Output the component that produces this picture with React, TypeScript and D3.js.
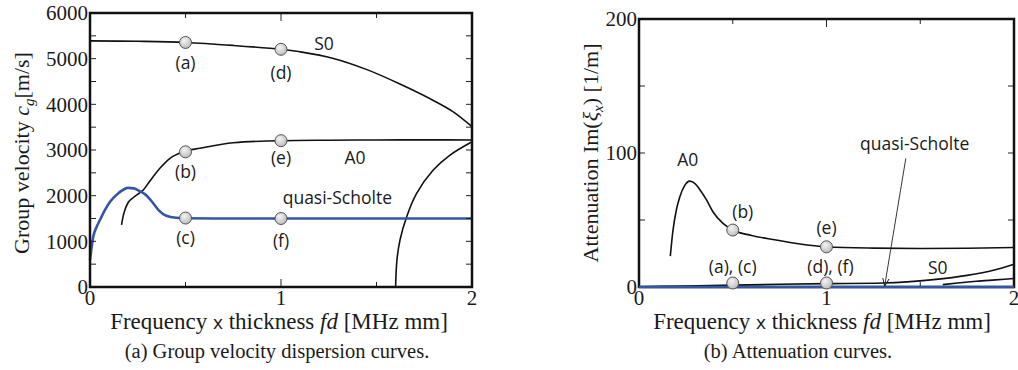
import * as React from 'react';
import * as d3 from 'd3';

// (a) group velocity, fd [MHz mm] vs cg [m/s]
const s0VelFd = [0, 0.25, 0.5, 0.75, 1.0, 1.1, 1.27, 1.45, 1.62, 1.8, 1.9, 2.0];
const s0Vel = [5390, 5380, 5355, 5290, 5205, 5150, 5010, 4760, 4450, 4080, 3840, 3510];

const a0VelFd = [0.165, 0.172, 0.183, 0.2, 0.227, 0.26, 0.28, 0.31, 0.366, 0.419, 0.49, 0.576, 0.75, 1.0, 1.25, 1.5, 1.75, 2.0];
const a0Vel = [1360, 1520, 1690, 1850, 1960, 2060, 2130, 2300, 2600, 2818, 2963, 3037, 3160, 3204, 3214, 3220, 3222, 3220];

const qsVelFd = [0, 0.017, 0.035, 0.052, 0.08, 0.105, 0.15, 0.2, 0.23, 0.26, 0.297, 0.33, 0.36, 0.4, 0.45, 0.5, 0.75, 1.0, 1.5, 2.0];
const qsVel = [590, 1100, 1320, 1467, 1700, 1868, 2060, 2170, 2160, 2100, 2000, 1840, 1680, 1560, 1515, 1505, 1500, 1500, 1500, 1500];

const a1VelFd = [1.6, 1.607, 1.623, 1.658, 1.71, 1.797, 1.885, 2.0];
const a1Vel = [0, 590, 1030, 1540, 2050, 2562, 2890, 3182];

// (b) attenuation, fd vs Im(xi) [1/m]
const a0AttFd = [0.167, 0.181, 0.2, 0.217, 0.245, 0.27, 0.3, 0.323, 0.36, 0.395, 0.448, 0.5, 0.6, 0.715, 0.85, 1.0, 1.25, 1.5, 1.75, 2.0];
const a0Att = [23, 42, 58, 67, 76, 79, 77, 73, 65, 56, 47.5, 42.5, 38.5, 35.4, 32.3, 30, 29, 28.7, 28.9, 29.5];

const s0AttFd = [0, 0.25, 0.5, 0.75, 1.0, 1.3, 1.57, 1.75, 1.89, 2.0];
const s0Att = [0.2, 0.8, 1.4, 2.0, 2.5, 3.0, 5.5, 8.7, 12.5, 17];

const a1AttFd = [1.62, 1.7, 1.8, 1.9, 2.0];
const a1Att = [1.8, 3.0, 4.3, 5.3, 6.3];

const qsAttFd = [0, 2];
const qsAtt = [0, 0];

// markers
const velMarkFd = [0.5, 1.0, 0.5, 1.0, 0.5, 1.0];
const velMark = [5355, 5205, 2960, 3204, 1510, 1500];
const velMarkLabels = ['(a)', '(d)', '(b)', '(e)', '(c)', '(f)'];

const attMarkFd = [0.5, 1.0, 0.5, 1.0];
const attMark = [42.5, 30, 3, 3];
const attMarkLabels = ['(b)', '(e)', '(a), (c)', '(d), (f)'];

const xTickLabels = ['0', '1', '2'];
const velTickLabels = ['0', '1000', '2000', '3000', '4000', '5000', '6000'];
const attTickLabels = ['0', '100', '200'];

const BLUE = '#3556a6';
const INK = '#1a1a1a';
const SERIF = '"Liberation Serif", "Times New Roman", serif';
const SANS = '"Open Sans", "Noto Sans", sans-serif';

function zip(xs: number[], ys: number[]) {
  return xs.map((x, i) => [x, ys[i]] as [number, number]);
}

function Frame({ x, y, xMinor, yMinor }) {
  const [x0, x1] = x.range();
  const [y0, y1] = y.range();
  const ticks = [];
  xMinor.forEach((t, i) => {
    const len = Number.isInteger(t) ? 8 : 5;
    ticks.push(<line key={'xb' + i} x1={x(t)} x2={x(t)} y1={y0} y2={y0 - len} />);
    ticks.push(<line key={'xt' + i} x1={x(t)} x2={x(t)} y1={y1} y2={y1 + len} />);
  });
  yMinor.forEach((t, i) => {
    ticks.push(<line key={'yl' + i} x1={x0} x2={x0 + 6} y1={y(t)} y2={y(t)} />);
    ticks.push(<line key={'yr' + i} x1={x1} x2={x1 - 6} y1={y(t)} y2={y(t)} />);
  });
  return (
    <g>
      <g stroke="#222" strokeWidth={1}>{ticks}</g>
      <rect x={x0} y={y1} width={x1 - x0} height={y0 - y1} fill="none" stroke="#111" strokeWidth={2.5} />
    </g>
  );
}

function Marker({ cx, cy }) {
  return <circle cx={cx} cy={cy} r={6} fill="url(#mk)" stroke="#555" strokeWidth={1} />;
}

export default function App() {
  const xa = d3.scaleLinear().domain([0, 2]).range([90, 472]);
  const ya = d3.scaleLinear().domain([0, 6000]).range([287, 13]);
  const xb = d3.scaleLinear().domain([0, 2]).range([639, 1014]);
  const yb = d3.scaleLinear().domain([0, 200]).range([287, 19]);

  const la = d3.line().x(d => xa(d[0])).y(d => ya(d[1])).curve(d3.curveMonotoneX);
  const lb = d3.line().x(d => xb(d[0])).y(d => yb(d[1])).curve(d3.curveMonotoneX);
  // smooth curves (S0, A1 with vertical start)
  const laS = d3.line().x(d => xa(d[0])).y(d => ya(d[1])).curve(d3.curveCatmullRom.alpha(0.5));

  const fdMinor = [0.5, 1, 1.5];
  const velMinor = d3.range(500, 6000, 500);
  const attMinor = [50, 100, 150];

  const velOff = [20, 24, 20, 17, 20, 22];
  const attOff = [-18, -19, -16, -16];
  const attDx = [10, 0, 0, 4];

  const annot = { fontFamily: SANS, fontSize: 17.5, fill: INK };

  return (
    <svg width={1018} height={370} style={{ position: 'absolute', left: 0, top: 0, background: '#fff' }}>
      <defs>
        <radialGradient id="mk" cx="40%" cy="35%" r="70%">
          <stop offset="0%" stopColor="#f4f4f4" />
          <stop offset="100%" stopColor="#b8b8b8" />
        </radialGradient>
        <marker id="arr" viewBox="0 0 10 10" refX={10} refY={5} markerWidth={9} markerHeight={9} orient="auto">
          <path d="M0,1 L10,5 L0,9" fill="none" stroke="#222" strokeWidth={1.2} />
        </marker>
      </defs>

      {/* ---------- (a) group velocity ---------- */}
      <g fill="none" strokeLinejoin="round">
        <path d={laS(zip(s0VelFd, s0Vel))} stroke="#111" strokeWidth={1.6} />
        <path d={la(zip(a0VelFd, a0Vel))} stroke="#111" strokeWidth={1.6} />
        <path d={laS(zip(a1VelFd, a1Vel))} stroke="#111" strokeWidth={1.6} />
        <path d={la(zip(qsVelFd, qsVel))} stroke={BLUE} strokeWidth={2.6} />
      </g>
      <Frame x={xa} y={ya} xMinor={fdMinor} yMinor={velMinor} />
      {velMarkFd.map((f, i) => (
        <g key={'vm' + i}>
          <Marker cx={xa(f)} cy={ya(velMark[i])} />
          <text x={xa(f)} y={ya(velMark[i]) + velOff[i]} dy="0.35em" textAnchor="middle" {...annot}>{velMarkLabels[i]}</text>
        </g>
      ))}
      <g {...annot} textAnchor="middle">
        <text x={xa(1.225)} y={ya(5321)} dy="0.35em">S0</text>
        <text x={xa(1.387)} y={ya(2825)} dy="0.35em">A0</text>
        <text x={xa(1.295)} y={ya(1949)} dy="0.35em">quasi-Scholte</text>
      </g>
      <g fontFamily={SERIF} fontSize={21} fill={INK}>
        {velTickLabels.map((t, i) => (
          <text key={'vt' + i} x={88} y={ya(+t)} dy="0.35em" textAnchor="end">{t}</text>
        ))}
        {xTickLabels.map((t, i) => (
          <text key={'xat' + i} x={xa(+t)} y={305} textAnchor="middle">{t}</text>
        ))}
      </g>
      <text x={279} y={329} textAnchor="middle" fontFamily={SERIF} fontSize={23} fill={INK}>
        Frequency <tspan fontFamily={SANS} fontSize={19}>x</tspan> thickness  <tspan fontStyle="italic">fd</tspan> [MHz mm]
      </text>
      <text x={277} y={358} textAnchor="middle" fontFamily={SERIF} fontSize={20.5} fill={INK}>(a) Group velocity dispersion curves.</text>
      <text transform="translate(29,153) rotate(-90)" textAnchor="middle" fontFamily={SERIF} fontSize={22} fill={INK}>
        Group velocity <tspan fontStyle="italic">c</tspan><tspan fontStyle="italic" fontSize={15} dy={5}>g</tspan><tspan dy={-5}>[m/s]</tspan>
      </text>

      {/* ---------- (b) attenuation ---------- */}
      <g fill="none" strokeLinejoin="round">
        <path d={lb(zip(a0AttFd, a0Att))} stroke="#111" strokeWidth={1.6} />
        <path d={lb(zip(s0AttFd, s0Att))} stroke="#111" strokeWidth={1.6} />
        <path d={lb(zip(a1AttFd, a1Att))} stroke="#111" strokeWidth={1.6} />
      </g>
      <Frame x={xb} y={yb} xMinor={fdMinor} yMinor={attMinor} />
      <path d={lb(zip(qsAttFd, qsAtt))} fill="none" stroke={BLUE} strokeWidth={2.6} />
      <line x1={xb(1.423)} y1={yb(96)} x2={xb(1.31)} y2={yb(0.6)} stroke="#222" strokeWidth={0.9} markerEnd="url(#arr)" />
      {attMarkFd.map((f, i) => (
        <g key={'am' + i}>
          <Marker cx={xb(f)} cy={yb(attMark[i])} />
          <text x={xb(f) + attDx[i]} y={yb(attMark[i]) + attOff[i]} dy="0.35em" textAnchor="middle" {...annot}>{attMarkLabels[i]}</text>
        </g>
      ))}
      <g {...annot} textAnchor="middle">
        <text x={xb(0.26)} y={yb(94.6)} dy="0.35em">A0</text>
        <text x={xb(1.47)} y={yb(106.6)} dy="0.35em">quasi-Scholte</text>
        <text x={xb(1.593)} y={yb(14)} dy="0.35em">S0</text>
      </g>
      <g fontFamily={SERIF} fontSize={21} fill={INK}>
        {attTickLabels.map((t, i) => (
          <text key={'at' + i} x={637} y={yb(+t)} dy="0.35em" textAnchor="end">{t}</text>
        ))}
        {xTickLabels.map((t, i) => (
          <text key={'xbt' + i} x={xb(+t)} y={305} textAnchor="middle">{t}</text>
        ))}
      </g>
      <text x={822} y={329} textAnchor="middle" fontFamily={SERIF} fontSize={23} fill={INK}>
        Frequency <tspan fontFamily={SANS} fontSize={19}>x</tspan> thickness  <tspan fontStyle="italic">fd</tspan> [MHz mm]
      </text>
      <text x={798} y={358} textAnchor="middle" fontFamily={SERIF} fontSize={20.5} fill={INK}>(b) Attenuation curves.</text>
      <text transform="translate(598,153) rotate(-90)" textAnchor="middle" fontFamily={SERIF} fontSize={22} fill={INK}>
        Attenuation Im(<tspan fontStyle="italic">ξ</tspan><tspan fontStyle="italic" fontSize={15} dy={5}>x</tspan><tspan dy={-5}>) [1/m]</tspan>
      </text>
    </svg>
  );
}
